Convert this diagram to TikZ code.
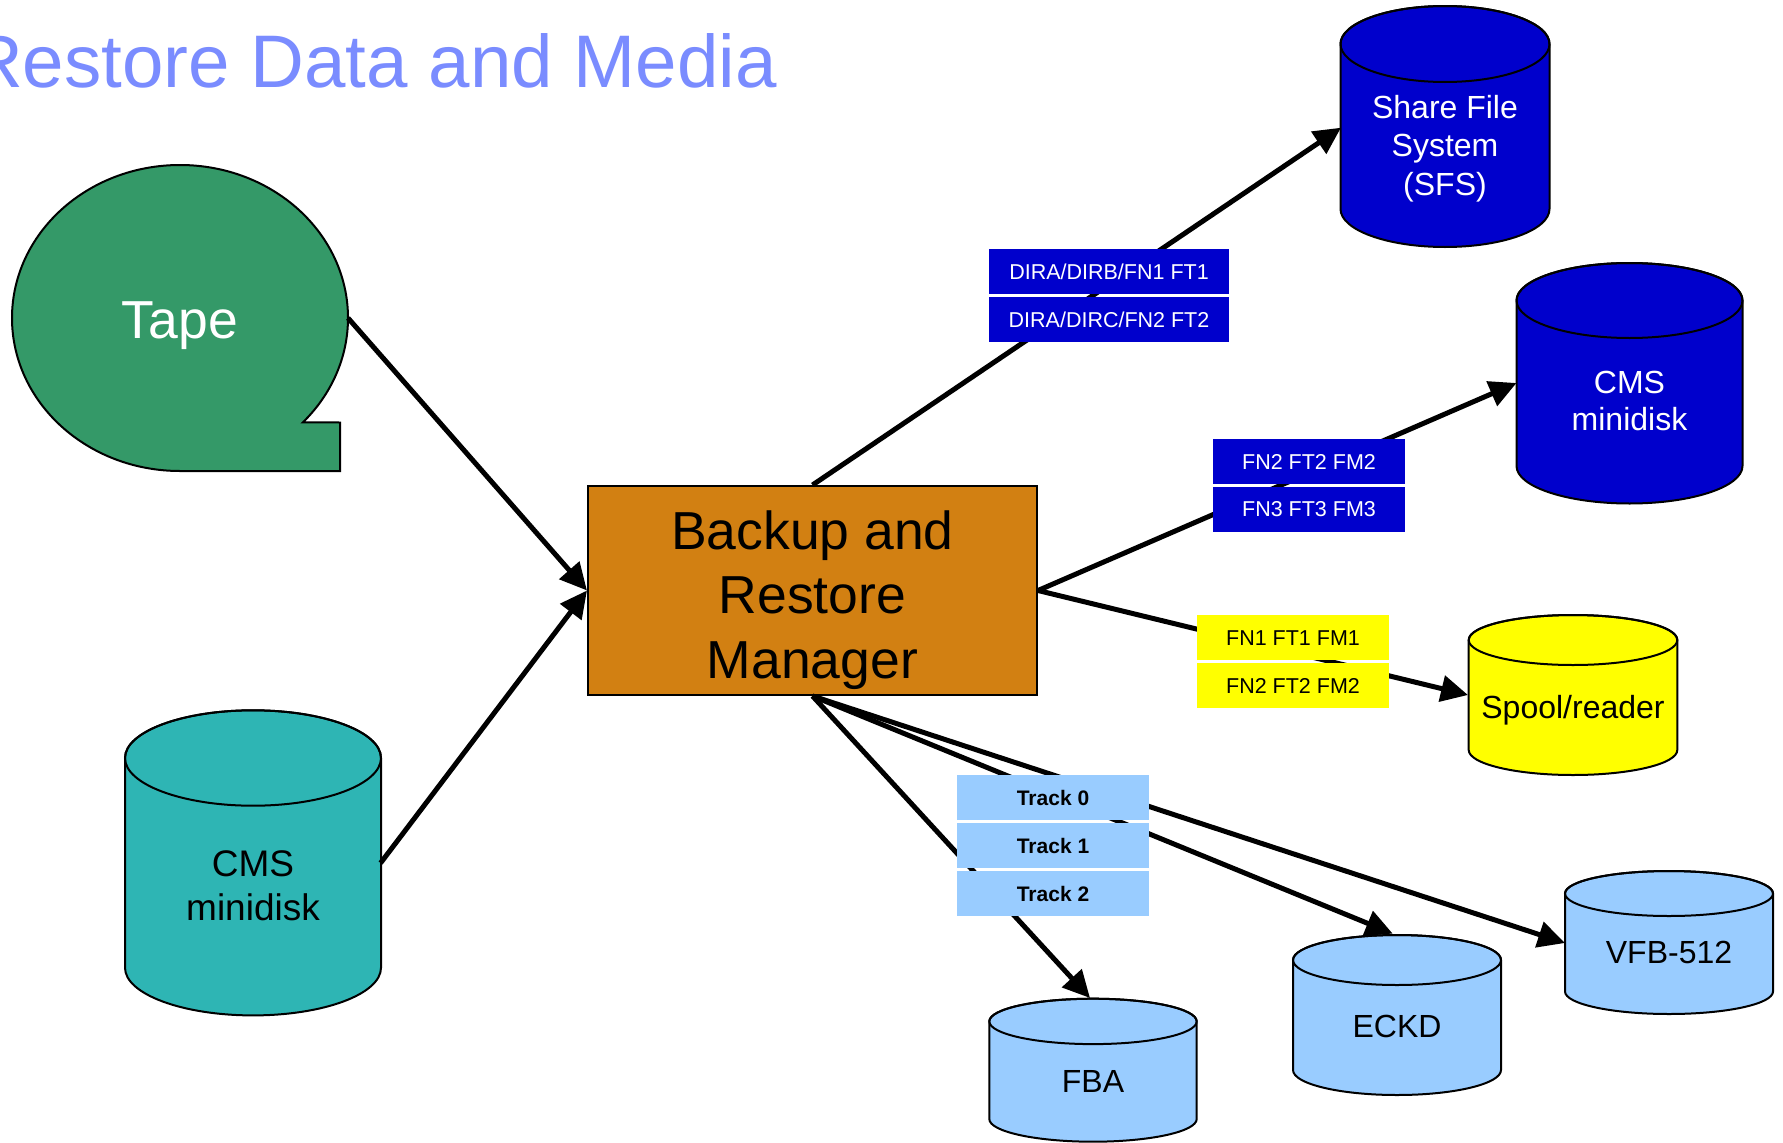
\documentclass[tikz,border=0pt]{standalone}
\usepackage{fontspec}
\setmainfont{Liberation Sans}
\usetikzlibrary{arrows.meta}
\definecolor{titleblue}{RGB}{122,140,255}
\definecolor{tapegreen}{RGB}{52,153,104}
\definecolor{tealfill}{RGB}{46,181,180}
\definecolor{mgrorange}{RGB}{210,128,18}
\definecolor{dkblue}{RGB}{0,0,204}
\definecolor{spoolyellow}{RGB}{255,255,0}
\definecolor{ltblue}{RGB}{153,204,255}
\newcommand\mycyl[6]{%
  \filldraw[cylline, fill=#6] (#1-#4,-#2) -- (#1-#4,-#3)
    arc[start angle=180,end angle=360,x radius=#4,y radius=#5]
    -- (#1+#4,-#2)
    arc[start angle=0,end angle=180,x radius=#4,y radius=#5] -- cycle;
  \draw[cylline] (#1,-#2) ellipse[x radius=#4, y radius=#5];}
\begin{document}
\begin{tikzpicture}[x=1pt,y=1pt,
  cylline/.style={line width=2pt, draw=black},
  conn/.style={line width=5pt, -{Triangle[length=27pt,width=26pt]}},
  txt/.style={anchor=base, inner sep=0pt},
  big/.style={font=\fontsize{53.5}{64}\selectfont},
  mid/.style={font=\fontsize{32}{38}\selectfont},
  lblbox/.style={minimum width=192pt, minimum height=45pt, inner sep=0pt,
    text height=15.4pt, text depth=0pt, font=\fontsize{21.5}{25}\selectfont},
  trackbox/.style={lblbox, fill=ltblue, text=black,
    text height=15pt, font=\fontsize{21}{25}\selectfont\bfseries}]
\useasboundingbox (0,0) rectangle (1783,-1143);
\fill[white] (0,0) rectangle (1783,-1143);

% title
\node[anchor=base west, inner sep=0pt, text=titleblue,
  font=\fontsize{74.5}{90}\selectfont] (title) at (-31,-87) {Restore Data and Media};

% Tape
\filldraw[line width=2pt, fill=tapegreen] (180,-471)
  arc[start angle=270, end angle=-43, x radius=168, y radius=153]
  -- (340,-422.5) -- (340,-471) -- cycle;
\node[txt, big, text=white] (tape) at (180,-338) {Tape};
\coordinate (tape-e) at (348,-318);

% teal CMS minidisk
\mycyl{253}{758}{967.7}{128}{47.7}{tealfill}
\node[txt, font=\fontsize{37}{44}\selectfont] (cmsl1) at (253,-876) {CMS};
\node[txt, font=\fontsize{37}{44}\selectfont] (cmsl2) at (253,-920) {minidisk};
\coordinate (cmsl-e) at (380.6,-863);

% manager
\node[draw=black, line width=2pt, fill=mgrorange, minimum width=449pt,
  minimum height=209pt, inner sep=0pt] (brm) at (812.5,-590.5) {};
\node[txt, big] (brm1) at (812.5,-549) {Backup and};
\node[txt, big] (brm2) at (812.5,-613.5) {Restore};
\node[txt, big] (brm3) at (812.5,-678) {Manager};

% SFS
\mycyl{1445}{44}{209}{104.5}{38}{dkblue}
\node[txt, mid, text=white] (sfs1) at (1445,-118) {Share File};
\node[txt, mid, text=white] (sfs2) at (1445,-156.5) {System};
\node[txt, mid, text=white] (sfs3) at (1445,-195) {(SFS)};
\coordinate (sfs-w) at (1341,-127.7);

% dark CMS minidisk
\mycyl{1629.5}{300.5}{466}{113}{37.5}{dkblue}
\node[txt, mid, text=white] (cmsr1) at (1629.5,-393) {CMS};
\node[txt, mid, text=white] (cmsr2) at (1629.5,-430.5) {minidisk};
\coordinate (cmsr-w) at (1516.5,-383);

% Spool
\mycyl{1573}{640}{750}{104.3}{25}{spoolyellow}
\node[txt, mid] (spool) at (1573,-718) {Spool/reader};
\coordinate (spool-w) at (1468,-695);

% FBA
\mycyl{1093}{1021.4}{1119}{103.7}{22.7}{ltblue}
\node[txt, mid] (fba) at (1093,-1092) {FBA};
\coordinate (fba-n) at (1090,-998);

% ECKD
\mycyl{1397}{960}{1070}{104}{25}{ltblue}
\node[txt, mid] (eckd) at (1397,-1037) {ECKD};
\coordinate (eckd-n) at (1392.7,-933.6);

% VFB-512
\mycyl{1669}{893.5}{991.5}{104}{22.5}{ltblue}
\node[txt, mid] (vfb) at (1669,-963) {VFB-512};
\coordinate (vfb-w) at (1565,-943);

% connectors
\draw[conn] (tape-e) -- (brm.west);
\draw[conn] (cmsl-e) -- (brm.west);
\draw[conn] (brm.north) -- (sfs-w);
\draw[conn] (brm.east) -- (cmsr-w);
\draw[conn] (brm.east) -- (spool-w);
\draw[conn] (brm.south) -- (fba-n);
\draw[conn] (brm.south) -- (eckd-n);
\draw[conn] (brm.south) -- (vfb-w);

% labels
\node[lblbox, fill=dkblue, text=white, minimum width=240pt] (d1) at (1109,-271.7) {DIRA/DIRB/FN1 FT1};
\node[lblbox, fill=dkblue, text=white, minimum width=240pt] (d2) at (1109,-319.8) {DIRA/DIRC/FN2 FT2};
\node[lblbox, fill=dkblue, text=white] (m1) at (1309,-461.5) {FN2 FT2 FM2};
\node[lblbox, fill=dkblue, text=white] (m2) at (1309,-509) {FN3 FT3 FM3};
\node[lblbox, fill=spoolyellow, text=black] (y1) at (1293,-637.3) {FN1 FT1 FM1};
\node[lblbox, fill=spoolyellow, text=black] (y2) at (1293,-685.5) {FN2 FT2 FM2};
\node[trackbox] (t0) at (1053,-797.5) {Track 0};
\node[trackbox] (t1) at (1053,-845.5) {Track 1};
\node[trackbox] (t2) at (1053,-893.5) {Track 2};
\end{tikzpicture}
\end{document}
